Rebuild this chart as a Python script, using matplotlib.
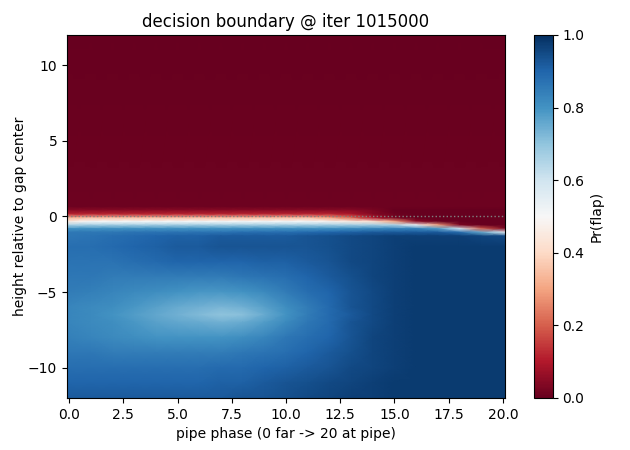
import numpy as np
import matplotlib
matplotlib.use('Agg')
import matplotlib.pyplot as plt

# grid nodes (pipe phase along x, height along y)
phase = [-0.1, 1, 2, 3, 4, 5, 6, 7, 8, 9, 10, 11, 12, 13, 14, 15, 16, 17, 18, 19, 20.1]
height = [12, 0.65, 0.4, 0.15, -0.1, -0.33, -0.57, -0.8, -1.05, -1.3,
          -2, -3, -4, -5, -6, -6.5, -7, -8, -9, -10, -11, -12]

# Pr(flap), one row per height
pr_flap = [
    [0.0] * 21,
    [0.01] * 21,
    [0.05, 0.05, 0.05, 0.05, 0.05, 0.05, 0.05, 0.05, 0.05, 0.05, 0.05, 0.05, 0.05, 0.05, 0.03, 0.0, 0.0, 0.0, 0.0, 0.0, 0.0],
    [0.12, 0.12, 0.12, 0.12, 0.12, 0.12, 0.12, 0.12, 0.12, 0.12, 0.12, 0.12, 0.12, 0.09, 0.04, 0.01, 0.0, 0.0, 0.0, 0.0, 0.0],
    [0.33, 0.35, 0.35, 0.35, 0.35, 0.35, 0.35, 0.35, 0.35, 0.35, 0.35, 0.35, 0.3, 0.22, 0.1, 0.02, 0.0, 0.0, 0.0, 0.0, 0.0],
    [0.45, 0.5, 0.5, 0.5, 0.5, 0.5, 0.5, 0.5, 0.5, 0.5, 0.5, 0.5, 0.48, 0.45, 0.42, 0.3, 0.05, 0.0, 0.0, 0.0, 0.0],
    [0.66, 0.67, 0.67, 0.67, 0.67, 0.67, 0.67, 0.67, 0.67, 0.67, 0.67, 0.67, 0.67, 0.67, 0.67, 0.66, 0.52, 0.3, 0.03, 0.0, 0.0],
    [0.8, 0.8, 0.8, 0.8, 0.8, 0.8, 0.8, 0.8, 0.8, 0.8, 0.8, 0.8, 0.8, 0.81, 0.82, 0.83, 0.83, 0.78, 0.58, 0.2, 0.03],
    [0.86, 0.86, 0.86, 0.87, 0.87, 0.87, 0.87, 0.87, 0.88, 0.88, 0.88, 0.89, 0.9, 0.91, 0.92, 0.92, 0.92, 0.92, 0.88, 0.75, 0.55],
    [0.86, 0.87, 0.88, 0.89, 0.9, 0.91, 0.91, 0.92, 0.92, 0.92, 0.92, 0.93, 0.94, 0.95, 0.96, 0.97, 0.97, 0.97, 0.97, 0.96, 0.95],
    [0.88, 0.88, 0.89, 0.9, 0.91, 0.92, 0.92, 0.93, 0.93, 0.93, 0.93, 0.93, 0.94, 0.95, 0.96, 0.97, 0.98, 0.98, 0.98, 0.98, 0.98],
    [0.87, 0.87, 0.87, 0.88, 0.89, 0.9, 0.9, 0.9, 0.9, 0.91, 0.91, 0.92, 0.93, 0.95, 0.96, 0.97, 0.98, 0.98, 0.98, 0.98, 0.98],
    [0.86, 0.86, 0.85, 0.85, 0.85, 0.85, 0.85, 0.85, 0.86, 0.87, 0.88, 0.9, 0.92, 0.94, 0.96, 0.97, 0.98, 0.98, 0.98, 0.98, 0.98],
    [0.85, 0.84, 0.83, 0.82, 0.81, 0.8, 0.79, 0.79, 0.8, 0.82, 0.85, 0.88, 0.9, 0.93, 0.95, 0.97, 0.98, 0.98, 0.98, 0.98, 0.98],
    [0.83, 0.82, 0.81, 0.79, 0.77, 0.75, 0.74, 0.73, 0.74, 0.77, 0.81, 0.85, 0.89, 0.93, 0.95, 0.97, 0.98, 0.98, 0.98, 0.98, 0.98],
    [0.83, 0.82, 0.8, 0.78, 0.76, 0.74, 0.72, 0.7, 0.71, 0.75, 0.8, 0.85, 0.89, 0.92, 0.95, 0.97, 0.98, 0.98, 0.98, 0.98, 0.98],
    [0.83, 0.82, 0.81, 0.79, 0.77, 0.76, 0.75, 0.74, 0.75, 0.78, 0.82, 0.86, 0.89, 0.93, 0.95, 0.97, 0.98, 0.98, 0.98, 0.98, 0.98],
    [0.84, 0.83, 0.82, 0.81, 0.8, 0.8, 0.8, 0.8, 0.81, 0.83, 0.86, 0.88, 0.9, 0.93, 0.96, 0.97, 0.98, 0.98, 0.98, 0.98, 0.98],
    [0.86, 0.86, 0.85, 0.85, 0.85, 0.85, 0.85, 0.85, 0.86, 0.87, 0.88, 0.9, 0.92, 0.94, 0.96, 0.97, 0.98, 0.98, 0.98, 0.98, 0.98],
    [0.88, 0.88, 0.88, 0.88, 0.88, 0.88, 0.88, 0.89, 0.89, 0.9, 0.91, 0.92, 0.93, 0.95, 0.96, 0.97, 0.98, 0.98, 0.98, 0.98, 0.98],
    [0.9, 0.9, 0.9, 0.9, 0.9, 0.9, 0.9, 0.91, 0.91, 0.92, 0.93, 0.94, 0.95, 0.96, 0.97, 0.98, 0.98, 0.98, 0.98, 0.98, 0.98],
    [0.92, 0.92, 0.92, 0.92, 0.92, 0.92, 0.92, 0.92, 0.93, 0.93, 0.94, 0.95, 0.96, 0.97, 0.97, 0.98, 0.98, 0.98, 0.98, 0.98, 0.98],
]

X, Y = np.meshgrid(phase, height)
Z = np.array(pr_flap)

fig = plt.figure(figsize=(6.3, 4.5), dpi=100)
ax = fig.add_axes([0.1063, 0.1156, 0.6953, 0.8067])
cax = fig.add_axes([0.848, 0.1156, 0.0290, 0.8067])

mesh = ax.pcolormesh(X, Y, Z, cmap='RdBu', vmin=0, vmax=1, shading='gouraud')
ax.axhline(0, color='gray', linestyle=':', linewidth=1)
ax.set_xlim(-0.1, 20.1)
ax.set_ylim(-12, 12)
ax.set_title('decision boundary @ iter 1015000')
ax.set_xlabel('pipe phase (0 far -> 20 at pipe)')
ax.set_ylabel('height relative to gap center', labelpad=1)

cb = fig.colorbar(mesh, cax=cax)
cb.set_label('Pr(flap)')

fig.savefig('out.png', dpi=100)
